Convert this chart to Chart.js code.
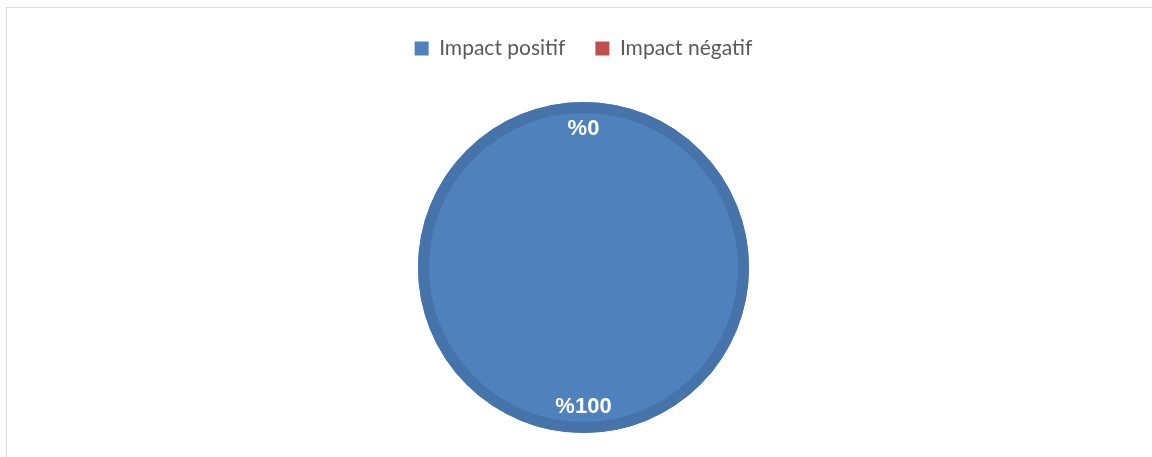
<!DOCTYPE html>
<html>
<head>
<meta charset="utf-8">
<script src="https://cdn.jsdelivr.net/npm/chart.js@4/dist/chart.umd.min.js"></script>
<style>
  html, body { margin: 0; padding: 0; background: #fff; }
  #frame {
    position: absolute;
    left: 6px;
    top: 7px;
    width: 1146px;
    height: 450px;
    border-top: 1px solid #d9d9d9;
    border-left: 1px solid #d9d9d9;
  }
</style>
</head>
<body>
<div id="frame"><canvas id="pieChart"></canvas></div>
<script>
// Chart data
const categories = ['Impact positif', 'Impact négatif'];
const values = [100, 0];
const sliceColors = ['#4f81bd', '#c0504d'];

// Extra space under the legend before the pie starts
const legendGap = {
    id: 'legendGap',
    beforeInit(chart) {
        const origFit = chart.legend.fit;
        chart.legend.fit = function () {
            origFit.call(this);
            this.height += 33;
        };
    }
};

// Darker rim around the pie, like the original office chart
const rimPlugin = {
    id: 'rim',
    afterDatasetsDraw(chart) {
        const arc = chart.getDatasetMeta(0).data[0];
        const ctx = chart.ctx;
        ctx.save();
        ctx.beginPath();
        ctx.arc(arc.x, arc.y, arc.outerRadius - 5.5, 0, Math.PI * 2);
        ctx.lineWidth = 11;
        ctx.strokeStyle = '#4673aa';
        ctx.stroke();
        ctx.restore();
    }
};

// Percentage labels placed inside each slice
const labelPlugin = {
    id: 'sliceLabels',
    afterDraw(chart) {
        const ctx = chart.ctx;
        const meta = chart.getDatasetMeta(0);
        ctx.save();
        ctx.fillStyle = '#ffffff';
        ctx.font = 'bold 22px "Liberation Sans", Arial, sans-serif';
        ctx.textAlign = 'center';
        ctx.textBaseline = 'middle';
        meta.data.forEach((arc, i) => {
            const mid = (arc.startAngle + arc.endAngle) / 2;
            const r = arc.outerRadius * 0.84;
            ctx.fillText('%' + values[i], arc.x + Math.cos(mid) * r, arc.y + Math.sin(mid) * r);
        });
        ctx.restore();
    }
};

const ctxPie = document.getElementById('pieChart').getContext('2d');
new Chart(ctxPie, {
    type: 'pie',
    data: {
        labels: categories,
        datasets: [{
            data: values,
            backgroundColor: sliceColors,
            borderWidth: 0
        }]
    },
    options: {
        responsive: true,
        maintainAspectRatio: false,
        animation: false,
        layout: {
            padding: { top: 0, bottom: 25, left: 7 }
        },
        plugins: {
            legend: {
                position: 'top',
                labels: {
                    boxWidth: 14,
                    boxHeight: 14,
                    padding: 30,
                    color: '#595959',
                    font: { family: 'Lato, sans-serif', size: 21 }
                }
            },
            tooltip: { enabled: false }
        }
    },
    plugins: [legendGap, rimPlugin, labelPlugin]
});
</script>
</body>
</html>
